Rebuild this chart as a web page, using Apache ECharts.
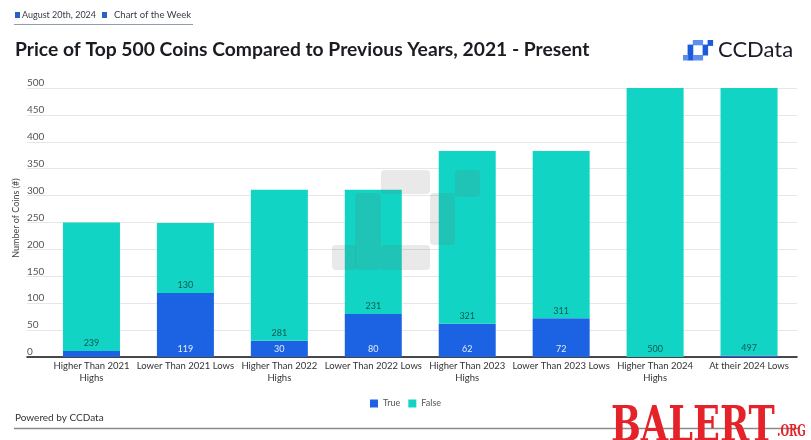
<!DOCTYPE html>
<html>
<head>
<meta charset="utf-8">
<script src="https://cdn.jsdelivr.net/npm/echarts@6/dist/echarts.min.js"></script>
<style>
html,body{margin:0;padding:0;background:#fff;}
#chart{width:811px;height:440px;}
</style>
</head>
<body>
<div id="chart"></div>
<script>
const categories = ['Higher Than 2021\nHighs','Lower Than 2021 Lows','Higher Than 2022\nHighs','Lower Than 2022 Lows','Higher Than 2023\nHighs','Lower Than 2023 Lows','Higher Than 2024\nHighs','At their 2024 Lows'];
const trueValues = [11, 119, 30, 80, 62, 72, 0, 3];
const falseValues = [239, 130, 281, 231, 321, 311, 500, 497];
const yMin = 0, yMax = 500, yInterval = 50;

const FONT = 'Lato';
const BLUE = '#1b63e2';
const TEAL = '#12d4c4';

// watermark blocks (shape of the brand mark)
const wm = [[381,170,49,24],[355,193,26,77],[332,245,24,25],[381,245,49,25],[430,193,25,52],[455,170,25,27]];
const wmBox = [332,170];
const logoScale = 0.2, logoX = 683, logoY = 40;

const graphics = [];
wm.forEach(r => graphics.push({type:'rect', z:50, shape:{x:r[0],y:r[1],width:r[2],height:r[3],r:4}, style:{fill:'rgba(110,110,110,0.15)'}}));
wm.forEach((r,i) => graphics.push({type:'rect', z:50, shape:{x:logoX+(r[0]-wmBox[0])*logoScale, y:logoY+(r[1]-wmBox[1])*logoScale, width:r[2]*logoScale+0.5, height:r[3]*logoScale+0.5}, style:{fill: (i===1||i===4||i===5)?'#1b5ad8':'#5c8ff0'}}));
graphics.push(
  {type:'rect', shape:{x:15,y:12,width:5,height:6}, style:{fill:'#2a5fc4'}},
  {type:'text', style:{x:22,y:15,text:'August 20th, 2024',font:'9px '+FONT,fill:'#3a3a4a',verticalAlign:'middle'}},
  {type:'rect', shape:{x:102,y:12,width:5,height:6}, style:{fill:'#2a5fc4'}},
  {type:'text', style:{x:114,y:15,text:'Chart of the Week',font:'9.5px '+FONT,fill:'#3a3a4a',verticalAlign:'middle'}},
  {type:'line', shape:{x1:14,y1:24.5,x2:193,y2:24.5}, style:{stroke:'#8f9bb0',lineWidth:1}},
  {type:'text', style:{x:15,y:50,text:'Price of Top 500 Coins Compared to Previous Years, 2021 - Present',font:'bold 19.3px '+FONT,fill:'#1b1b22',verticalAlign:'middle'}},
  {type:'text', style:{x:718,y:50,text:'CCData',font:'22px '+FONT,fill:'#1b1b2a',verticalAlign:'middle'}},
  {type:'text', rotation:Math.PI/2, x:16, y:218, style:{x:0,y:0,text:'Number of Coins (#)',font:'9px '+FONT,fill:'#444',align:'center',verticalAlign:'middle'}},
  {type:'text', style:{x:15,y:418,text:'Powered by CCData',font:'10px '+FONT,fill:'#333',verticalAlign:'middle'}},
  {type:'line', shape:{x1:14,y1:428.5,x2:800,y2:428.5}, style:{stroke:'#8a8a8a',lineWidth:1.5}},
  {type:'text', z:60, x:611, y:404, scaleX:0.72, style:{x:0,y:0,text:'BALERT',font:'bold 49px "DejaVu Serif"',fill:'#e5222a',verticalAlign:'top'}},
  {type:'text', z:60, x:777, y:424, scaleX:0.62, style:{x:0,y:0,text:'.ORG',font:'bold 16px "DejaVu Serif"',fill:'#e5222a',verticalAlign:'top'}}
);

const option = {
  animation:false,
  backgroundColor:'#fff',
  textStyle:{fontFamily:FONT},
  grid:[
    {left:27, right:14, top:88, bottom:83},
    {left:44.5, right:15, top:88, bottom:83}
  ],
  legend:{
    data:['True','False'], top:394, left:'center', icon:'rect', itemWidth:8, itemHeight:8, itemGap:8,
    textStyle:{fontSize:9, color:'#555', fontFamily:FONT}
  },
  xAxis:[
    {gridIndex:0, type:'value', min:0, max:1, axisLine:{show:true, lineStyle:{color:'#111', width:1.5}}, axisTick:{show:false}, axisLabel:{show:false}, splitLine:{show:false}},
    {gridIndex:1, type:'category', data:categories, axisLine:{show:false}, axisTick:{show:false},
     axisLabel:{interval:0, margin:3, fontSize:9.5, lineHeight:12, color:'#333', fontFamily:FONT}}
  ],
  yAxis:[
    {gridIndex:0, type:'value', min:yMin, max:yMax, interval:yInterval, axisLine:{show:false}, axisTick:{show:false},
     axisLabel:{inside:true, margin:0, align:'left', verticalAlign:'bottom', fontSize:10, color:'#555', fontFamily:FONT},
     splitLine:{lineStyle:{color:'#e6e6e6', width:1}}},
    {gridIndex:1, type:'value', min:yMin, max:yMax, interval:yInterval, show:false, splitLine:{show:false}}
  ],
  series:[
    {name:'True', type:'bar', stack:'total', xAxisIndex:1, yAxisIndex:1, data:trueValues, barWidth:57,
     itemStyle:{color:BLUE},
     label:{show:true, position:'insideBottom', distance:3, fontSize:9, color:'#e4edff', fontFamily:FONT,
       formatter:p => p.value >= 15 ? String(p.value) : ''}},
    {name:'False', type:'bar', stack:'total', xAxisIndex:1, yAxisIndex:1, data:falseValues, barWidth:57,
     itemStyle:{color:TEAL},
     label:{show:true, position:'insideBottom', distance:3, fontSize:9, color:'#0b5a52', fontFamily:FONT}}
  ],
  graphic:graphics
};
const chart = echarts.init(document.getElementById('chart'), null, {renderer:'canvas'});
chart.setOption(option);
</script>
</body>
</html>
